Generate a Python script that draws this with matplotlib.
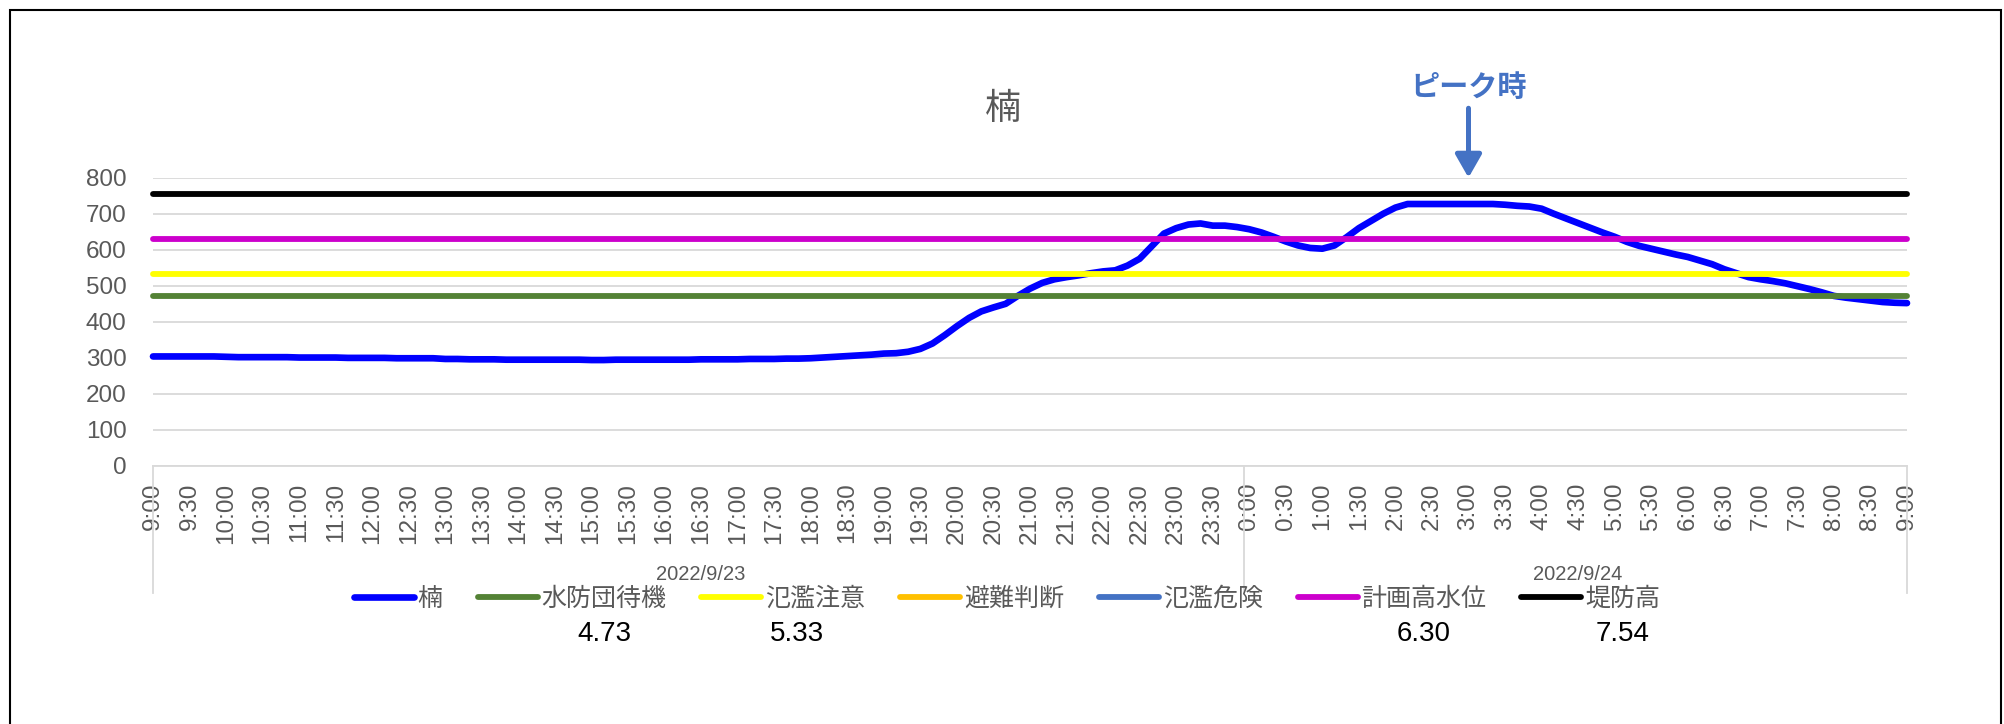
import numpy as np
import matplotlib
matplotlib.use('Agg')
import matplotlib.pyplot as plt
from matplotlib.patches import Rectangle
from matplotlib.transforms import blended_transform_factory, ScaledTranslation

plt.rcParams['font.family'] = ['Noto Sans CJK JP', 'DejaVu Sans']

# =============================================================================
# ================================== DATA =====================================
# =============================================================================
# 楠 water level, 10 minute steps from 2022/9/23 9:00 to 2022/9/24 9:00
kusu = [
    304, 304, 304, 304, 304, 304,   # 9:00
    303, 302, 302, 302, 302, 302,   # 10:00
    301, 301, 301, 301, 300, 300,   # 11:00
    300, 300, 299, 299, 299, 299,   # 12:00
    297, 297, 296, 296, 296, 295,   # 13:00
    295, 295, 295, 295, 295, 295,   # 14:00
    294, 294, 295, 295, 295, 295,   # 15:00
    295, 295, 295, 296, 296, 296,   # 16:00
    296, 297, 297, 297, 298, 298,   # 17:00
    299, 301, 303, 305, 307, 309,   # 18:00
    312, 313, 317, 325, 340, 363,   # 19:00
    388, 411, 429, 440, 450, 472,   # 20:00
    492, 508, 518, 524, 529, 535,   # 21:00
    540, 543, 556, 575, 610, 645,   # 22:00
    660, 670, 673, 667, 667, 663,   # 23:00
    657, 648, 636, 623, 612, 605,   # 0:00
    603, 612, 635, 660, 680, 700,   # 1:00
    717, 727, 727, 727, 727, 727,   # 2:00
    727, 727, 727, 725, 722, 720,   # 3:00
    714, 700, 687, 674, 661, 648,   # 4:00
    636, 622, 611, 603, 595, 587,   # 5:00
    580, 570, 560, 546, 535, 524,   # 6:00
    518, 513, 507, 499, 491, 482,   # 7:00
    472, 467, 463, 459, 455, 453,   # 8:00
    452,                            # 9:00
]

level_names = ['水防団待機', '氾濫注意', '避難判断', '氾濫危険', '計画高水位', '堤防高']
level_values = [473, 533, None, None, 630, 754]
level_colors = ['#548235', '#FFFF00', '#FFC000', '#4472C4', '#CC00CC', '#000000']

tick_labels = ['9:00', '9:30', '10:00', '10:30', '11:00', '11:30', '12:00', '12:30',
               '13:00', '13:30', '14:00', '14:30', '15:00', '15:30', '16:00', '16:30',
               '17:00', '17:30', '18:00', '18:30', '19:00', '19:30', '20:00', '20:30',
               '21:00', '21:30', '22:00', '22:30', '23:00', '23:30',
               '0:00', '0:30', '1:00', '1:30', '2:00', '2:30', '3:00', '3:30',
               '4:00', '4:30', '5:00', '5:30', '6:00', '6:30', '7:00', '7:30',
               '8:00', '8:30', '9:00']
dates = ['2022/9/23', '2022/9/24']
date_edges = [0, 90, 144]
peak_index = 108   # 3:00
# -----------------------------------------------------------------------------


# =============================================================================
# ================================== PLOT =====================================
# =============================================================================
W, H = 2004, 724
fig = plt.figure(figsize=(W / 100, H / 100), dpi=100)
ax = fig.add_axes([153 / W, 1 - 466 / H, 1754 / W, 288.3 / H])

x = np.arange(len(kusu))
ax.plot(x, kusu, color='#0000FF', lw=4.8, solid_capstyle='round',
        solid_joinstyle='round', label='楠', zorder=3, clip_on=False)
for name, v, c in zip(level_names, level_values, level_colors):
    yv = np.full(len(x), np.nan if v is None else v, dtype=float)
    ax.plot(x, yv, color=c, lw=4.2, solid_capstyle='round', label=name,
            zorder=4, clip_on=False)

ax.set_xlim(0, len(kusu) - 1)
ax.set_ylim(0, 800)
ax.set_yticks(range(0, 801, 100))
ax.set_xticks(range(0, len(kusu), 3))
ax.set_xticklabels(tick_labels, rotation=90, family='Liberation Sans')
for t in ax.get_yticklabels():
    t.set_family('Liberation Sans')
ax.tick_params(length=0, labelsize=17.5, labelcolor='#595959')
ax.tick_params(axis='y', pad=19)
ax.tick_params(axis='x', pad=12)
ax.grid(axis='y', color='#D9D9D9', lw=1.3)
ax.set_axisbelow(True)
for s in ['left', 'right', 'top']:
    ax.spines[s].set_visible(False)
ax.spines['bottom'].set_color('#D9D9D9')
ax.spines['bottom'].set_linewidth(1.3)

# date groups under the time labels
trans = blended_transform_factory(ax.transData, ax.transAxes)
sep = ScaledTranslation(-5 / 100, 0, fig.dpi_scale_trans)
for xe in date_edges:
    t_sep = trans + sep if 0 < xe < date_edges[-1] else trans
    ax.plot([xe, xe], [0, -0.4405], transform=t_sep, color='#D9D9D9', lw=1.3,
            clip_on=False)
for d, a, b in zip(dates, date_edges[:-1], date_edges[1:]):
    ax.text((a + b) / 2, -0.375, d, transform=trans, ha='center', va='center',
            fontsize=14.5, color='#595959', family=['Liberation Sans'])

fig.text(1003 / W, 1 - 109 / H, '楠', fontsize=26, color='#595959',
         ha='center', va='center')

# peak marker
ax.annotate('', xy=(peak_index, 800), xytext=(0, 50), textcoords='offset points',
            arrowprops=dict(arrowstyle='-|>,head_length=0.7,head_width=0.4',
                            color='#4472C4', lw=3.6, shrinkA=0, shrinkB=0,
                            mutation_scale=20),
            annotation_clip=False)
ax.annotate('ピーク時', xy=(peak_index, 800), xytext=(0, 65), textcoords='offset points',
            ha='center', va='center', fontsize=21, fontweight='bold',
            color='#4472C4', annotation_clip=False)

leg = fig.legend(loc='center', bbox_to_anchor=(1007 / W, 1 - 599 / H), ncol=7,
                 frameon=False, fontsize=18, handlelength=2.4, handletextpad=0.15,
                 columnspacing=1.4, labelcolor='#595959')

# level values under legend entries
fig.canvas.draw()
renderer = fig.canvas.get_renderer()
offsets = {'水防団待機': 0.5, '氾濫注意': 0.32, '計画高水位': 0.5, '堤防高': 0.5}
for t in leg.get_texts():
    name = t.get_text()
    if name not in offsets:
        continue
    v = level_values[level_names.index(name)]
    bb = t.get_window_extent(renderer)
    xp = bb.x0 + offsets[name] * bb.width
    fig.text(xp / W, (H - 634) / H, '%.2f' % (v / 100), ha='center', va='center',
             fontsize=20, color='black', family=['Liberation Sans'])

# chart frame
fig.add_artist(Rectangle((10 / W, -0.01), (2001 - 10) / W, 1 - 10 / H + 0.01,
                         transform=fig.transFigure, fill=False, ec='black', lw=1.5))

fig.savefig('out.png', dpi=100)
